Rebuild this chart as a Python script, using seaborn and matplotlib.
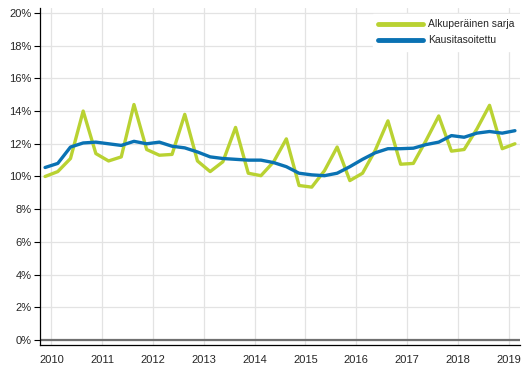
import numpy as np
import pandas as pd
import seaborn as sns
import matplotlib.pyplot as plt
import matplotlib.ticker as mticker

# quarterly series 2010Q1 - 2019Q2 (%)
years = list(range(2010, 2020))
alkuperainen = [10.0, 10.3, 11.1, 14.0, 11.4, 10.95, 11.2, 14.4, 11.65, 11.3,
                11.35, 13.8, 10.95, 10.3, 10.9, 13.0, 10.2, 10.05, 10.9, 12.3,
                9.45, 9.35, 10.35, 11.8, 9.75, 10.2, 11.6, 13.4, 10.75, 10.8,
                12.2, 13.7, 11.55, 11.65, 12.9, 14.35, 11.7, 12.0]
kausitasoitettu = [10.55, 10.8, 11.8, 12.05, 12.1, 12.0, 11.9, 12.15, 12.0, 12.1,
                   11.85, 11.75, 11.5, 11.2, 11.1, 11.05, 11.0, 11.0, 10.85, 10.6,
                   10.2, 10.1, 10.05, 10.2, 10.6, 11.05, 11.45, 11.7, 11.7, 11.73,
                   11.95, 12.1, 12.5, 12.4, 12.65, 12.75, 12.65, 12.8]
series_names = ["Alkuperäinen sarja", "Kausitasoitettu"]

n = len(alkuperainen)
df = pd.DataFrame({
    "idx": list(range(n)) * 2,
    "value": alkuperainen + kausitasoitettu,
    "sarja": [series_names[0]] * n + [series_names[1]] * n,
})

sns.set_style("white")
plt.rcParams["font.family"] = ["Liberation Sans", "DejaVu Sans"]

fig = plt.figure(figsize=(5.29, 3.78), dpi=100)
ax = fig.add_axes([40 / 529, 33 / 378, 480 / 529, 337 / 378])

sns.lineplot(
    data=df, x="idx", y="value", hue="sarja",
    palette={series_names[0]: "#b9d232", series_names[1]: "#0a72b3"},
    linewidth=2.4, ax=ax,
)

ax.set_xlim(-0.4, 37.4)
ax.set_ylim(-0.3, 20.3)
ax.set_yticks(np.arange(0, 21, 2))
ax.yaxis.set_major_formatter(mticker.FuncFormatter(lambda v, p: f"{v:.0f}%"))
ax.set_xticks([4 * i + 0.5 for i in range(len(years))])
ax.set_xticklabels([str(y) for y in years])
ax.grid(True, color="#e3e3e3", linewidth=0.9)
ax.set_axisbelow(True)
ax.axhline(0, color="#707070", linewidth=1.6, zorder=1.5)

ax.tick_params(axis="y", length=4, width=0.8, color="black", labelsize=8, pad=2, left=True)
ax.tick_params(axis="x", length=0, labelsize=8, pad=7)
for s in ["top", "right"]:
    ax.spines[s].set_visible(False)
for s in ["left", "bottom"]:
    ax.spines[s].set_color("black")
    ax.spines[s].set_linewidth(0.9)

ax.set_xlabel("")
ax.set_ylabel("")
leg = ax.legend(loc="upper right", bbox_to_anchor=(520 / 529, 364 / 378),
                bbox_transform=fig.transFigure, fontsize=7.5,
                frameon=True, fancybox=False, handlelength=4.3, handletextpad=0.5,
                borderpad=0.5, borderaxespad=0, labelspacing=0.6)
leg.get_frame().set_edgecolor("white")
leg.get_frame().set_facecolor("white")
leg.get_frame().set_alpha(1)
for line in leg.get_lines():
    line.set_linewidth(3.5)

fig.savefig("out.png", dpi=100)
